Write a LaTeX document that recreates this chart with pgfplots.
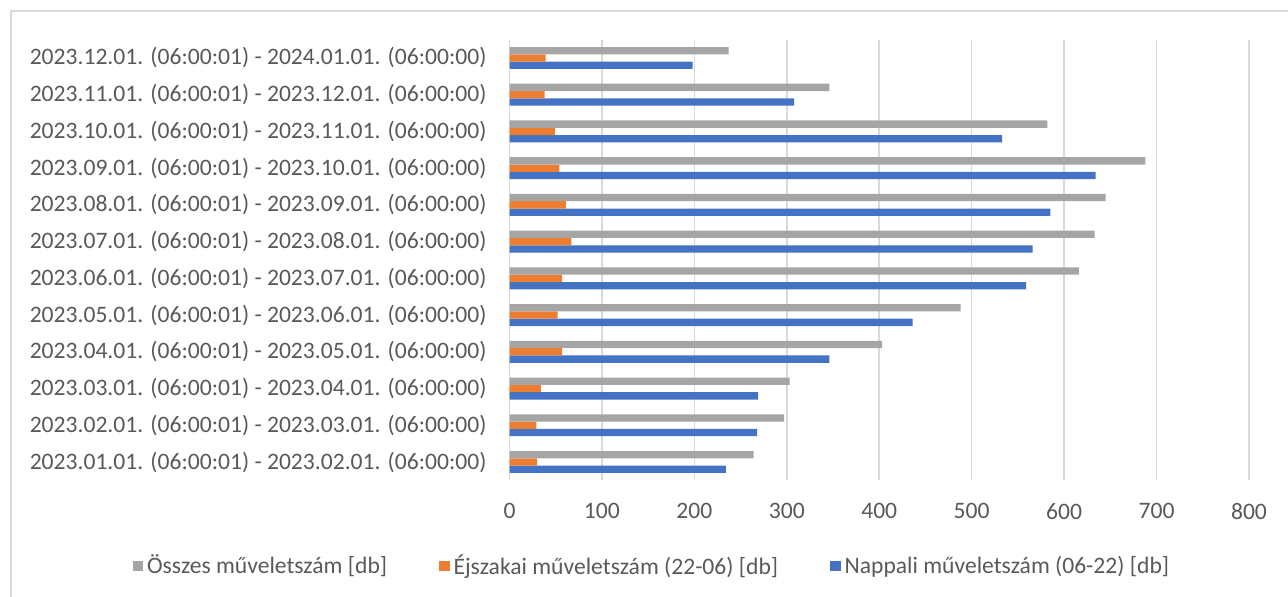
\documentclass[border=0pt]{standalone}
\usepackage{pgfplots}
\pgfplotsset{compat=1.18}
\usepackage{fontspec}
\setmainfont{Carlito}

\definecolor{cGray}{HTML}{A5A5A5}
\definecolor{cOrange}{HTML}{ED7D31}
\definecolor{cBlue}{HTML}{4472C4}
\definecolor{cText}{HTML}{595959}
\definecolor{cGrid}{HTML}{D9D9D9}

\begin{document}
\begin{tikzpicture}
    \useasboundingbox (0,0) rectangle (644pt,298.5pt);
    % chart frame
    \draw[cGrid, line width=0.8pt] (5.5pt,-10pt) rectangle (700pt,293pt);
    \begin{axis}[
        at={(254.75pt,58.3pt)},
        anchor=south west,
        scale only axis,
        width=369.75pt,
        height=220.4pt,
        xbar=0pt,
        bar width=3.65pt,
        %
        xmin=0,
        xmax=800,
        xtick distance=100,
        xmajorgrids,
        grid style={cGrid, line width=0.8pt},
        %
        ymin=-0.5,
        ymax=11.5,
        ytick={0,...,11},
        yticklabels={
            2023.01.01. (06:00:01) - 2023.02.01. (06:00:00),
            2023.02.01. (06:00:01) - 2023.03.01. (06:00:00),
            2023.03.01. (06:00:01) - 2023.04.01. (06:00:00),
            2023.04.01. (06:00:01) - 2023.05.01. (06:00:00),
            2023.05.01. (06:00:01) - 2023.06.01. (06:00:00),
            2023.06.01. (06:00:01) - 2023.07.01. (06:00:00),
            2023.07.01. (06:00:01) - 2023.08.01. (06:00:00),
            2023.08.01. (06:00:01) - 2023.09.01. (06:00:00),
            2023.09.01. (06:00:01) - 2023.10.01. (06:00:00),
            2023.10.01. (06:00:01) - 2023.11.01. (06:00:00),
            2023.11.01. (06:00:01) - 2023.12.01. (06:00:00),
            2023.12.01. (06:00:01) - 2024.01.01. (06:00:00)},
        %
        axis line style={draw=none},
        major tick length=0pt,
        tick label style={font=\fontsize{11.8}{14}\selectfont, text=cText},
        /pgf/number format/assume math mode=true,
        yticklabel style={xshift=-8pt},
        xticklabel style={yshift=-8pt},
        %
        legend columns=3,
        reverse legend,
        legend style={
            at={(0.194,-0.194)},
            anchor=center,
            draw=none,
            fill=none,
            font=\fontsize{11.8}{14}\selectfont,
            text=cText,
            /tikz/every even column/.append style={column sep=24pt},
        },
        legend image code/.code={
            \fill[#1] (0pt,-2.6pt) rectangle (5.2pt,2.6pt);
        },
    ]
        % Nappali (06-22)
        \addplot[draw=none, fill=cBlue] coordinates {
            (234,0) (268,1) (269,2) (346,3) (436,4) (559,5)
            (566,6) (585,7) (634,8) (533,9) (308,10) (198,11)
        };
        % Éjszakai (22-06)
        \addplot[draw=none, fill=cOrange] coordinates {
            (30,0) (29,1) (34,2) (57,3) (52,4) (57,5)
            (67,6) (61,7) (54,8) (49,9) (38,10) (39,11)
        };
        % Összes
        \addplot[draw=none, fill=cGray] coordinates {
            (264,0) (297,1) (303,2) (403,3) (488,4) (616,5)
            (633,6) (645,7) (688,8) (582,9) (346,10) (237,11)
        };
        \legend{Nappali műveletszám (06-22) [db], Éjszakai műveletszám (22-06) [db], Összes műveletszám [db]}
    \end{axis}
\end{tikzpicture}
\end{document}
